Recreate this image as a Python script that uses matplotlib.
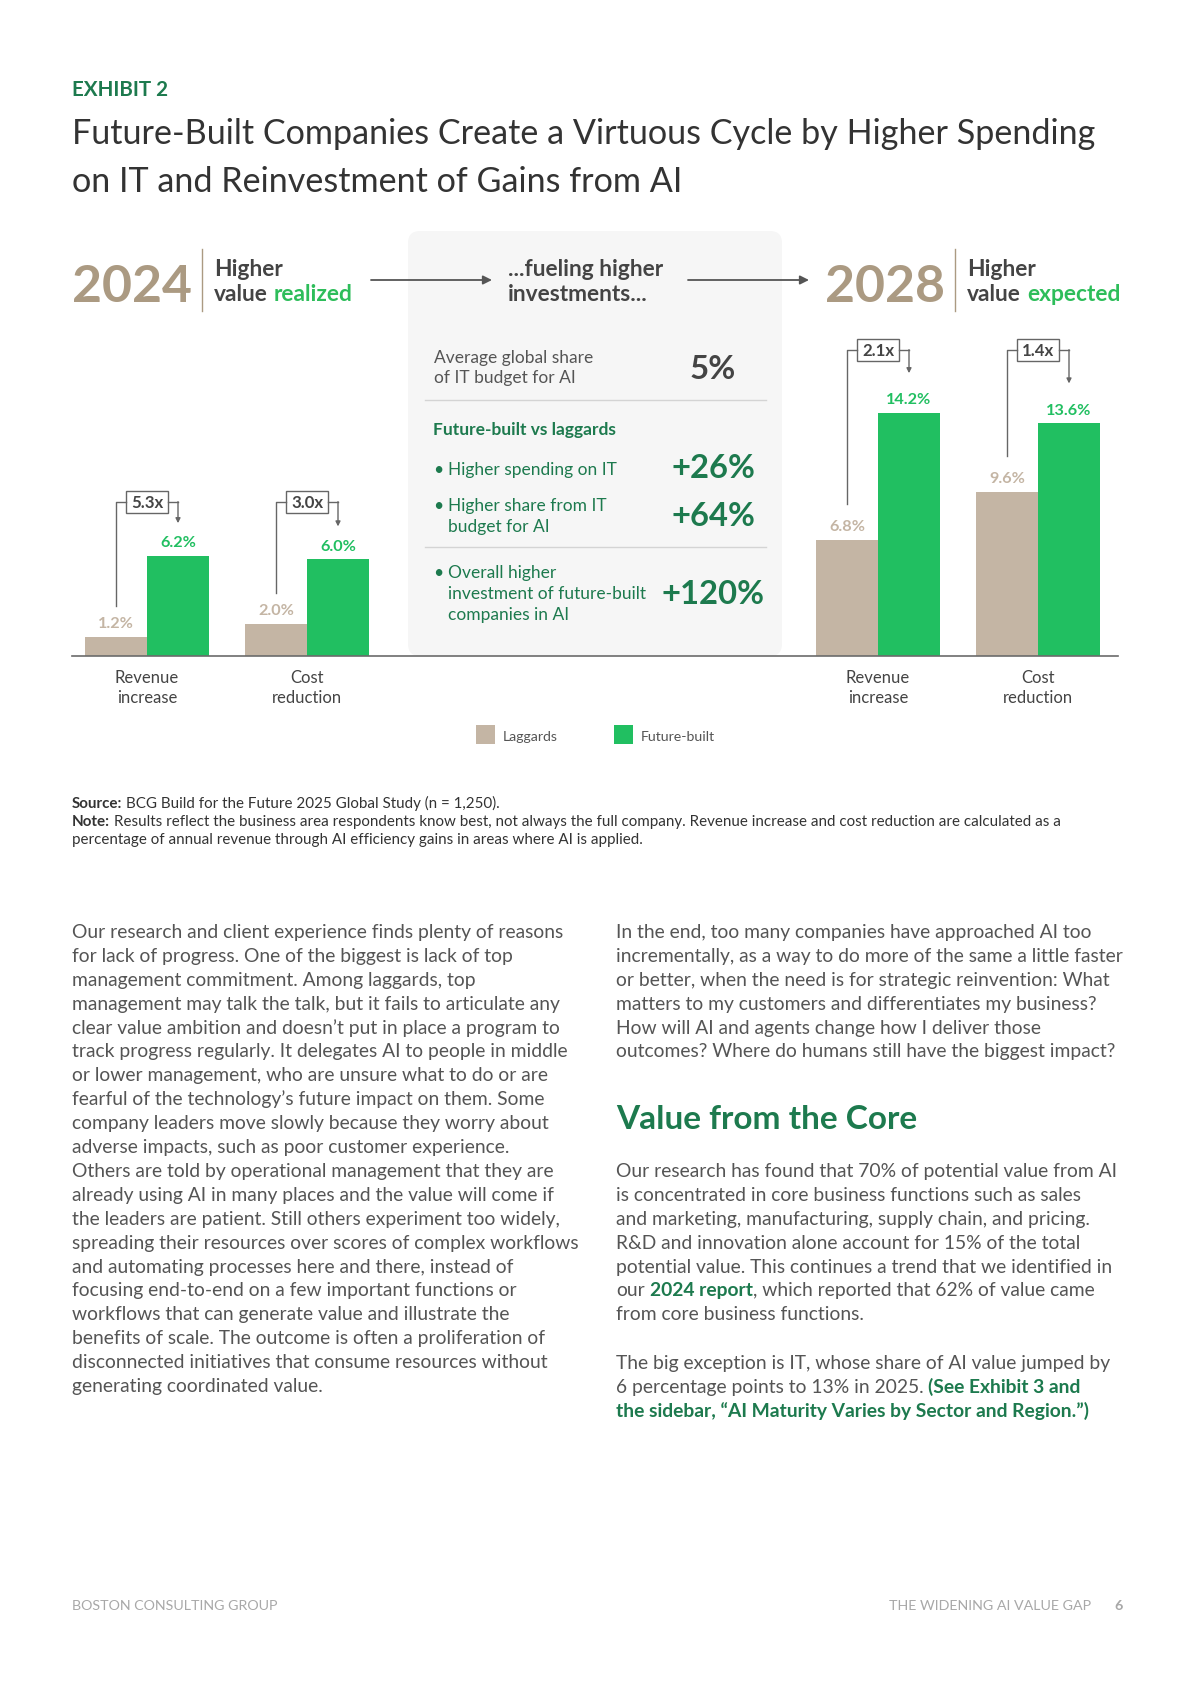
import numpy as np
import matplotlib.pyplot as plt
from matplotlib.patches import FancyBboxPatch, Rectangle

plt.rcParams['font.family'] = ['Lato', 'DejaVu Sans']

# ── Data ───────────────────────────────────────────────────────────────────────
categories = ["Revenue\nincrease", "Cost\nreduction"]
laggards_2024 = [1.2, 2.0]
future_2024 = [6.2, 6.0]
laggards_2028 = [6.8, 9.6]
future_2028 = [14.2, 13.6]
mult_2024 = ["5.3x", "3.0x"]
mult_2028 = ["2.1x", "1.4x"]
series_names = ["Laggards", "Future-built"]

avg_share_label = ["Average global share", "of IT budget for AI"]
avg_share_value = "5%"
compare_labels = [["Higher spending on IT"],
                  ["Higher share from IT", "budget for AI"],
                  ["Overall higher", "investment of future-built", "companies in AI"]]
compare_values = ["+26%", "+64%", "+120%"]

# ── Palette ────────────────────────────────────────────────────────────────────
TAN = "#ab9a82"
LAG = "#c4b5a4"
FUT = "#21bf61"
DKGREEN = "#1d7a4e"
TXT = "#444444"
BODY = "#555555"

W, H = 1190, 1683
fig = plt.figure(figsize=(W / 100, H / 100), dpi=100)
fig.patch.set_facecolor("white")
ov = fig.add_axes([0, 0, 1, 1])
ov.set_xlim(0, W)
ov.set_ylim(H, 0)
ov.axis('off')
ov.set_zorder(5)
renderer = fig.canvas.get_renderer()


def width(txt, size, weight="normal"):
    t = ov.text(0, 0, txt, fontsize=size, fontweight=weight)
    w = t.get_window_extent(renderer).width
    t.remove()
    return w


def fit(txt, target, weight="normal"):
    return 10 * target / width(txt, 10, weight)


def seq(x, y, parts, size, **kw):
    # parts: list of (text, color, weight); drawn one after another
    sp = width("a a", size) - width("aa", size)
    for i, (txt, color, weight) in enumerate(parts):
        if i and parts[i - 1][0].endswith(" "):
            x += sp
        if txt.startswith(" "):
            x += sp
        t = ov.text(x, y, txt.strip(), fontsize=size, color=color,
                    fontweight=weight, va="baseline", **kw)
        x += t.get_window_extent(renderer).width
    return x


# ── Title ──────────────────────────────────────────────────────────────────────
ov.text(72, 96, "EXHIBIT 2", fontsize=fit("EXHIBIT 2", 97, "bold"),
        fontweight="bold", color=DKGREEN, va="baseline")
title_lines = ["Future-Built Companies Create a Virtuous Cycle by Higher Spending",
               "on IT and Reinvestment of Gains from AI"]
ts = fit(title_lines[0], 1024)
for i, line in enumerate(title_lines):
    ov.text(72, 144 + 48 * i, line, fontsize=ts, color="#333333", va="baseline")

# ── Header row ─────────────────────────────────────────────────────────────────
ys = fit("2024", 121, "bold")
hs = fit("Higher", 69, "bold")
for x0, year, word in [(72, "2024", "realized"), (825, "2028", "expected")]:
    ov.text(x0, 302, year, fontsize=ys, fontweight="bold", color=TAN, va="baseline")
    sx = x0 + 130
    ov.plot([sx, sx], [250, 312], color=TAN, lw=1.0)
    ov.text(sx + 12, 276, "Higher", fontsize=hs, fontweight="bold", color=TXT,
            va="baseline")
    seq(sx + 12, 301, [("value ", TXT, "bold"), (word, "#2dbd5a", "bold")], hs)

# middle grey panel
ov.add_patch(FancyBboxPatch((408, 232), 374, 425,
                            boxstyle="round,pad=0,rounding_size=12",
                            facecolor="#f6f6f6", edgecolor="none", zorder=0))
ov.text(508, 276, "...fueling higher", fontsize=hs, fontweight="bold", color=TXT,
        va="baseline")
ov.text(508, 301, "investments...", fontsize=hs, fontweight="bold", color=TXT,
        va="baseline")
for x1, x2 in [(371, 492), (688, 809)]:
    ov.annotate("", xy=(x2, 281), xytext=(x1, 281),
                arrowprops=dict(arrowstyle="-|>", color="#555555", lw=1.3,
                                mutation_scale=13, shrinkA=0, shrinkB=0))

ms = fit(avg_share_label[0], 159)
for i, line in enumerate(avg_share_label):
    ov.text(434, 363 + 20 * i, line, fontsize=ms, color=BODY, va="baseline")
ov.text(713, 379, avg_share_value, fontsize=fit(avg_share_value, 46, "bold"),
        fontweight="bold", color=TXT, va="baseline", ha="center")
for y in [401, 548]:
    ov.plot([425, 766], [y, y], color="#d4d4d4", lw=1.0)
ov.text(433, 435, "Future-built vs laggards", fontsize=ms, fontweight="bold",
        color=DKGREEN, va="baseline")

vs = fit("+26%", 84, "bold")
label_base = [475, 511, 578]
value_base = [478, 526, 604]
value_x = [713, 713, 713]
for lines, val, yb, yv, xv in zip(compare_labels, compare_values, label_base,
                                  value_base, value_x):
    ov.text(433, yb - 5, "\u2022", fontsize=ms, color=DKGREEN, va="center",
            ha="left")
    for j, line in enumerate(lines):
        ov.text(448, yb + 21 * j, line, fontsize=ms, color=DKGREEN, va="baseline")
    ov.text(xv, yv, val, fontsize=vs, fontweight="bold", color=DKGREEN,
            va="baseline", ha="center")

# ── Bars ───────────────────────────────────────────────────────────────────────
ov.plot([72, 1118], [657, 657], color="#6b6b6b", lw=1.2)
bw = 62 / 160
lab_size = fit("6.2%", 36, "bold")
mult_size = fit("5.3x", 32, "bold")
cat_size = fit("Revenue", 64)


def to_px(ax, x, y):
    dx, dy = ax.transData.transform((x, y))
    return dx, H - dy


def panel(x0, scale, lag, fut, mults, gap, start_off, end_off):
    axb = fig.add_axes([x0 / W, (H - 657) / H, 320 / W, 400 / H])
    axb.set_xlim(-0.5, 1.5)
    axb.set_ylim(0, 400 / scale)
    axb.axis('off')
    xs = np.arange(len(lag))
    axb.bar(xs - bw / 2, lag, bw, color=LAG, linewidth=0)
    axb.bar(xs + bw / 2, fut, bw, color=FUT, linewidth=0)
    for x, a, b in zip(xs, lag, fut):
        axb.annotate(f"{a:.1f}%", (x - bw / 2, a), xytext=(0, 7),
                     textcoords="offset points", ha="center", va="baseline",
                     fontsize=lab_size, fontweight="bold", color=LAG)
        axb.annotate(f"{b:.1f}%", (x + bw / 2, b), xytext=(0, 7),
                     textcoords="offset points", ha="center", va="baseline",
                     fontsize=lab_size, fontweight="bold", color=FUT)
    top = to_px(axb, 0, max(fut))[1] - gap
    for x, a, b, m in zip(xs, lag, fut, mults):
        lx, ly = to_px(axb, x - bw / 2, a)
        fx, fy = to_px(axb, x + bw / 2, b)
        cx = (lx + fx) / 2
        ov.plot([lx, lx, cx - 21], [ly - start_off, top, top], color="#666666",
                lw=1.0)
        ov.plot([cx + 21, fx], [top, top], color="#666666", lw=1.0)
        ov.annotate("", xy=(fx, fy - end_off), xytext=(fx, top - 0.5),
                    arrowprops=dict(arrowstyle="-|>", color="#666666", lw=1.0,
                                    mutation_scale=7, shrinkA=0, shrinkB=0))
        ov.add_patch(Rectangle((cx - 21, top - 11), 42, 22, facecolor="white",
                               edgecolor="#666666", lw=1.0))
        ov.text(cx, top + 5, m, fontsize=mult_size, fontweight="bold",
                color=TXT, ha="center", va="baseline")
    for x, cat in zip(xs, categories):
        px = to_px(axb, x, 0)[0]
        for j, line in enumerate(cat.split("\n")):
            ov.text(px, 683 + 20 * j, line, fontsize=cat_size, color=TXT,
                    ha="center", va="baseline")


panel(67, 16.1, laggards_2024, future_2024, mult_2024, 54, 31, 33)
panel(798, 17.1, laggards_2028, future_2028, mult_2028, 63, 36, 40)

# ── Legend ─────────────────────────────────────────────────────────────────────
leg_size = fit("Laggards", 55)
for x, name, c in zip([476, 614], series_names, [LAG, FUT]):
    ov.add_patch(Rectangle((x, 726), 19, 19, facecolor=c, edgecolor="none"))
    ov.text(x + 27, 741, name, fontsize=leg_size, color=BODY, va="baseline")

# ── Source / note ──────────────────────────────────────────────────────────────
src = "Source: BCG Build for the Future 2025 Global Study (n = 1,250)."
ss = fit(src, 426)
seq(72, 808, [("Source:", "#333333", "bold"),
              (" BCG Build for the Future 2025 Global Study (n = 1,250).", "#333333", "normal")], ss)
seq(72, 826, [("Note:", "#333333", "bold"),
              (" Results reflect the business area respondents know best, not always the full "
               "company. Revenue increase and cost reduction are calculated as a",
               "#333333", "normal")], ss)
ov.text(72, 844, "percentage of annual revenue through AI efficiency gains in areas where AI is applied.",
        fontsize=ss, color="#333333", va="baseline")

# ── Body text ──────────────────────────────────────────────────────────────────
left_col = [
    "Our research and client experience finds plenty of reasons",
    "for lack of progress. One of the biggest is lack of top",
    "management commitment. Among laggards, top",
    "management may talk the talk, but it fails to articulate any",
    "clear value ambition and doesn\u2019t put in place a program to",
    "track progress regularly. It delegates AI to people in middle",
    "or lower management, who are unsure what to do or are",
    "fearful of the technology\u2019s future impact on them. Some",
    "company leaders move slowly because they worry about",
    "adverse impacts, such as poor customer experience.",
    "Others are told by operational management that they are",
    "already using AI in many places and the value will come if",
    "the leaders are patient. Still others experiment too widely,",
    "spreading their resources over scores of complex workflows",
    "and automating processes here and there, instead of",
    "focusing end-to-end on a few important functions or",
    "workflows that can generate value and illustrate the",
    "benefits of scale. The outcome is often a proliferation of",
    "disconnected initiatives that consume resources without",
    "generating coordinated value.",
]
right_p1 = [
    "In the end, too many companies have approached AI too",
    "incrementally, as a way to do more of the same a little faster",
    "or better, when the need is for strategic reinvention: What",
    "matters to my customers and differentiates my business?",
    "How will AI and agents change how I deliver those",
    "outcomes? Where do humans still have the biggest impact?",
]
right_p2 = [
    [("Our research has found that 70% of potential value from AI", BODY, "normal")],
    [("is concentrated in core business functions such as sales", BODY, "normal")],
    [("and marketing, manufacturing, supply chain, and pricing.", BODY, "normal")],
    [("R&D and innovation alone account for 15% of the total", BODY, "normal")],
    [("potential value. This continues a trend that we identified in", BODY, "normal")],
    [("our ", BODY, "normal"), ("2024 report", DKGREEN, "bold"),
     (", which reported that 62% of value came", BODY, "normal")],
    [("from core business functions.", BODY, "normal")],
]
right_p3 = [
    [("The big exception is IT, whose share of AI value jumped by", BODY, "normal")],
    [("6 percentage points to 13% in 2025. ", BODY, "normal"),
     ("(See Exhibit 3 and", DKGREEN, "bold")],
    [("the sidebar, \u201cAI Maturity Varies by Sector and Region.\u201d)", DKGREEN, "bold")],
]

bs = fit(left_col[0], 492)
LS = 23.9
for i, line in enumerate(left_col):
    ov.text(72, 938 + LS * i, line, fontsize=bs, color=BODY, va="baseline")
for i, line in enumerate(right_p1):
    ov.text(616, 938 + LS * i, line, fontsize=bs, color=BODY, va="baseline")
ov.text(616, 1129, "Value from the Core", fontsize=fit("Value from the Core", 302, "bold"),
        fontweight="bold", color=DKGREEN, va="baseline")
for i, parts in enumerate(right_p2):
    seq(616, 1177 + LS * i, parts, bs)
for i, parts in enumerate(right_p3):
    seq(616, 1369 + LS * i, parts, bs)

# ── Footer ─────────────────────────────────────────────────────────────────────
fs = fit("BOSTON CONSULTING GROUP", 205)
ov.text(72, 1610, "BOSTON CONSULTING GROUP", fontsize=fs, color="#a8a8a8", va="baseline")
ov.text(1091, 1610, "THE WIDENING AI VALUE GAP", fontsize=fs, color="#a8a8a8",
        va="baseline", ha="right")
ov.text(1119, 1610, "6", fontsize=fs, color="#a8a8a8", va="baseline", ha="center",
        fontweight="bold")

fig.savefig("out.png", dpi=100, facecolor="white")
